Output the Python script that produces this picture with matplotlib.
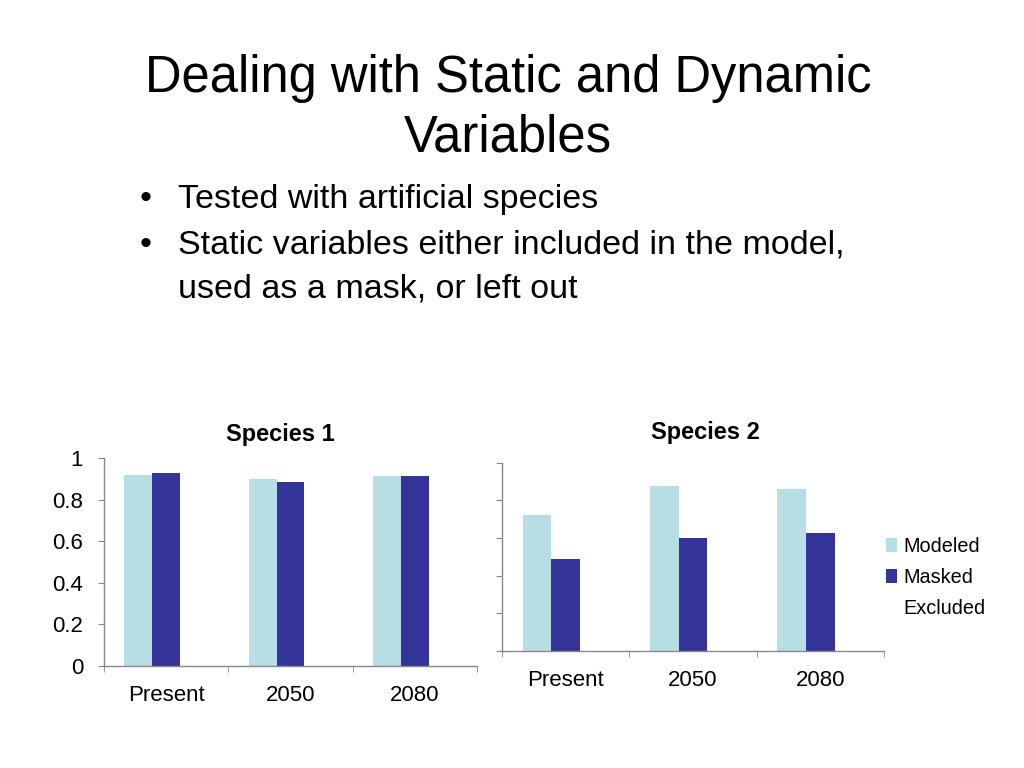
import numpy as np
import matplotlib
matplotlib.use("Agg")
import matplotlib.pyplot as plt
from matplotlib.patches import Patch

plt.rcParams['font.family'] = ['Liberation Sans', 'DejaVu Sans']

periods = ['Present', '2050', '2080']
series = ['Modeled', 'Masked', 'Excluded']
colors = ['#B7DEE4', '#343399', '#FFFFFF']

species1_modeled = [0.918, 0.897, 0.913]
species1_masked = [0.930, 0.885, 0.913]
species1_excluded = [0, 0, 0]

species2_modeled = [0.719, 0.874, 0.858]
species2_masked = [0.487, 0.602, 0.625]
species2_excluded = [0, 0, 0]

yticks = [0, 0.2, 0.4, 0.6, 0.8, 1]
ytick_labels = ['0', '0.2', '0.4', '0.6', '0.8', '1']

W, H = 1024, 768
fig = plt.figure(figsize=(W / 100, H / 100), dpi=100)

# slide title and bullets
fig.text(508 / W, 1 - 92 / H, 'Dealing with Static and Dynamic', fontsize=36.5,
         ha='center', va='baseline')
fig.text(508 / W, 1 - 151 / H, 'Variables', fontsize=36.5, ha='center', va='baseline')

bullets = [(208, '\u2022', 'Tested with artificial species'),
           (254, '\u2022', 'Static variables either included in the model,'),
           (297, '', 'used as a mask, or left out')]
for yb, dot, txt in bullets:
    if dot:
        fig.text(140 / W, 1 - yb / H, dot, fontsize=24.5, ha='left', va='baseline')
    fig.text(178 / W, 1 - yb / H, txt, fontsize=24.5, ha='left', va='baseline')

axis_gray = '#888888'


def bar_chart(ax, values, show_labels):
    x = np.arange(len(periods))
    w = 0.225
    for i, (vals, c) in enumerate(zip(values, colors)):
        ax.bar(x + (i - 1) * w, vals, width=w, color=c, edgecolor='none')
    ax.set_xlim(-0.5, len(periods) - 0.5)
    ax.set_ylim(0, 1)
    for s in ['top', 'right']:
        ax.spines[s].set_visible(False)
    for s in ['left', 'bottom']:
        ax.spines[s].set_color(axis_gray)
        ax.spines[s].set_linewidth(1.0)
    ax.set_xticks(x)
    ax.set_xticklabels(periods, fontsize=16)
    ax.set_xticks(np.arange(-0.5, len(periods)), minor=True)
    ax.tick_params(axis='x', which='major', length=0, pad=14)
    ax.tick_params(axis='x', which='minor', length=4.5, color=axis_gray, direction='out')
    ax.set_yticks(yticks)
    if show_labels:
        ax.set_yticklabels(ytick_labels, fontsize=16)
    else:
        ax.set_yticklabels([])
    ax.tick_params(axis='y', length=4.5, color=axis_gray, direction='out', pad=10.5)
    ax.patch.set_alpha(0)


ax1 = fig.add_axes([104 / W, 1 - 666 / H, 373 / W, 208 / H])
bar_chart(ax1, [species1_modeled, species1_masked, species1_excluded], True)

ax2 = fig.add_axes([502 / W, 1 - 651 / H, 382 / W, 188.5 / H])
bar_chart(ax2, [species2_modeled, species2_masked, species2_excluded], False)

fig.text(280 / W, 1 - 434 / H, 'Species 1', fontsize=17, fontweight='bold',
         ha='center', va='center')
fig.text(705 / W, 1 - 432 / H, 'Species 2', fontsize=17, fontweight='bold',
         ha='center', va='center')

handles = [Patch(facecolor=c, edgecolor='none') for c in colors]
fig.legend(handles, series, loc='upper left', bbox_to_anchor=(886 / W, 1 - 537 / H),
           frameon=False, fontsize=14.3, handlelength=0.55, handleheight=0.7,
           handletextpad=0.3, labelspacing=0.6, borderaxespad=0, borderpad=0)

fig.savefig('out.png', dpi=100)
